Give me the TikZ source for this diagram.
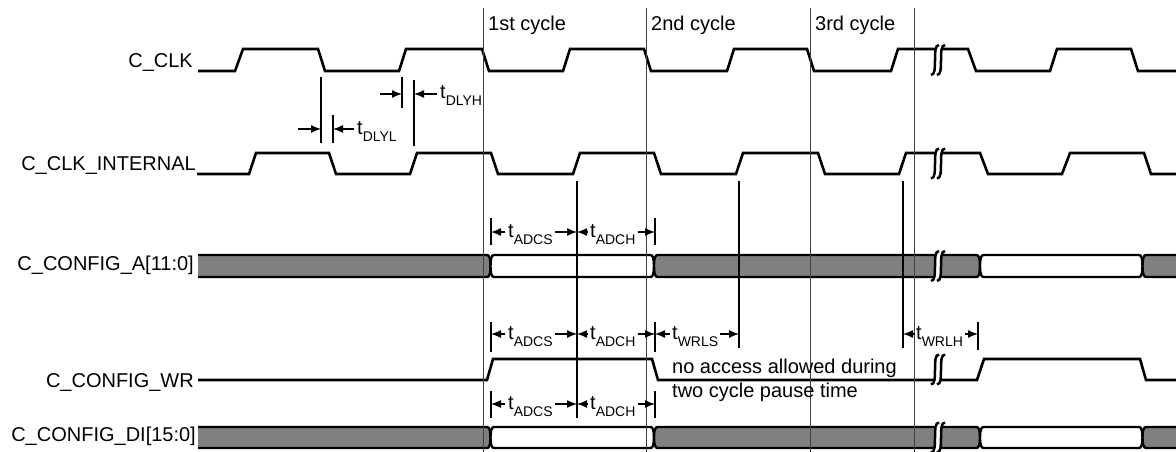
\documentclass[tikz,border=0pt]{standalone}
\usepackage{fontspec}
\setmainfont{Liberation Sans}
\usetikzlibrary{arrows.meta}
\definecolor{busgray}{RGB}{128,128,128}
\newcommand\tsb[1]{t\raisebox{-7pt}{\fontsize{14}{14}\selectfont #1}}
\newcommand\bseg[5]{%
  \filldraw[bus, fill=#3] ({#1+3.5},#4) -- ({#2-3.5},#4) .. controls ({#2-1},#4) and (#2,{#4+4}) .. (#2,{(#4+#5)/2}) .. controls (#2,{#5-4}) and ({#2-1},#5) .. ({#2-3.5},#5) -- ({#1+3.5},#5) .. controls ({#1+1},#5) and (#1,{#5-4}) .. (#1,{(#4+#5)/2}) .. controls (#1,{#4+4}) and ({#1+1},#4) .. cycle;}
\newcommand\bsegL[4]{%
  \fill[#2] (198,#3) -- ({#1-3.5},#3) .. controls ({#1-1},#3) and (#1,{#3+4}) .. (#1,{(#3+#4)/2}) .. controls (#1,{#4-4}) and ({#1-1},#4) .. ({#1-3.5},#4) -- (198,#4) -- cycle;
  \draw[bus] (198,#3) -- ({#1-3.5},#3) .. controls ({#1-1},#3) and (#1,{#3+4}) .. (#1,{(#3+#4)/2}) .. controls (#1,{#4-4}) and ({#1-1},#4) .. ({#1-3.5},#4) -- (198,#4);}
\newcommand\bsegR[4]{%
  \fill[#2] (1178,#3) -- ({#1+3.5},#3) .. controls ({#1+1},#3) and (#1,{#3+4}) .. (#1,{(#3+#4)/2}) .. controls (#1,{#4-4}) and ({#1+1},#4) .. ({#1+3.5},#4) -- (1178,#4) -- cycle;
  \draw[bus] (1178,#3) -- ({#1+3.5},#3) .. controls ({#1+1},#3) and (#1,{#3+4}) .. (#1,{(#3+#4)/2}) .. controls (#1,{#4-4}) and ({#1+1},#4) .. ({#1+3.5},#4) -- (1178,#4);}
\newcommand\brk[2]{%
  \fill[white] ({#1+1},{#2-15}) .. controls ({#1-7},{#2-15}) and ({#1+1},{#2+15}) .. ({#1-7},{#2+15}) -- ({#1-1},{#2+15}) .. controls ({#1+7},{#2+15}) and ({#1-1},{#2-15}) .. ({#1+7},{#2-15}) -- cycle;
  \draw[brkline] ({#1+1},{#2-15}) .. controls ({#1-7},{#2-15}) and ({#1+1},{#2+15}) .. ({#1-7},{#2+15});
  \draw[brkline] ({#1+7},{#2-15}) .. controls ({#1-1},{#2-15}) and ({#1+7},{#2+15}) .. ({#1-1},{#2+15});}
\begin{document}
\begin{tikzpicture}[x=1pt,y=-1pt,
  every node/.style={font=\fontsize{20}{24}\selectfont, inner sep=0pt},
  sig/.style={line width=2.6pt},
  bus/.style={line width=2.4pt},
  brkline/.style={line width=2.5pt},
  cyc/.style={line width=0.9pt, black!75},
  tick/.style={line width=1.3pt},
  arr/.style={-{Latex[length=10pt,width=8pt]}, line width=1.3pt}]
\useasboundingbox (0,0) rectangle (1176,452);
% signal labels
\node[anchor=base east] (lclk) at (193,68) {C\_CLK};
\node[anchor=base east] (lint) at (196,170) {C\_CLK\_INTERNAL};
\node[anchor=base east] (la) at (194,270) {C\_CONFIG\_A[11:0]};
\node[anchor=base east] (lwr) at (194,387) {C\_CONFIG\_WR};
\node[anchor=base east] (ldi) at (196,441) {C\_CONFIG\_DI[15:0]};
% cycle labels
\node[anchor=base west] (c1) at (488,31) {1st cycle};
\node[anchor=base west] (c2) at (651,31) {2nd cycle};
\node[anchor=base west] (c3) at (815,31) {3rd cycle};
% C_CLK
\draw[sig] (198,71) -- (235,71) -- (243,49) -- (318,49) -- (325,71) -- (399,71) -- (406,49) -- (482,49) -- (489,71) -- (563,71) -- (570,49) -- (644,49) -- (651,71) -- (727,71) -- (734,49) -- (807,49) -- (814,71) -- (891,71) -- (898,49) -- (968,49) -- (976,71) -- (1050,71) -- (1057,49) -- (1131,49) -- (1138,71) -- (1178,71);
% C_CLK_INTERNAL
\draw[sig] (197,174) -- (249,174) -- (256,153) -- (329,153) -- (336,174) -- (410,174) -- (417,153) -- (491,153) -- (498,174) -- (573,174) -- (580,153) -- (654,153) -- (661,174) -- (736,174) -- (743,153) -- (818,153) -- (825,174) -- (899,174) -- (906,153) -- (980,153) -- (988,174) -- (1062,174) -- (1070,153) -- (1144,153) -- (1151,174) -- (1178,174);
% C_CONFIG_WR
\draw[sig] (198,380) -- (487,380) -- (493,359) -- (652,359) -- (658,380) -- (977,380) -- (984,359) -- (1140,359) -- (1146,380) -- (1178,380);
% buses
\bsegL{490.5}{busgray}{255}{277}
\bseg{490.5}{654}{white}{255}{277}
\bseg{654}{980}{busgray}{255}{277}
\bseg{980}{1142.5}{white}{255}{277}
\bsegR{1142.5}{busgray}{255}{277}
\bsegL{490.5}{busgray}{427}{448}
\bseg{490.5}{654}{white}{427}{448}
\bseg{654}{980}{busgray}{427}{448}
\bseg{980}{1142.5}{white}{427}{448}
\bsegR{1142.5}{busgray}{427}{448}
% breaks
\brk{938}{60}
\brk{938}{163.5}
\brk{938}{266}
\brk{938}{369.5}
\brk{938}{437.5}
% cycle lines
\coordinate (k1t) at (483,8); \coordinate (k1b) at (483,452);
\coordinate (k2t) at (646,8); \coordinate (k2b) at (646,452);
\coordinate (k3t) at (810,8); \coordinate (k3b) at (810,452);
\coordinate (k4t) at (914,8); \coordinate (k4b) at (914,452);
\draw[cyc] (k1t) -- (k1b);
\draw[cyc] (k2t) -- (k2b);
\draw[cyc] (k3t) -- (k3b);
\draw[cyc] (k4t) -- (k4b);
% delay ticks
\draw[tick] (321,77) -- (321,143);
\draw[tick] (333,115) -- (333,143);
\draw[tick] (402,77) -- (402,108);
\draw[tick] (414,80) -- (414,146);
% long timing lines
\draw[line width=1.8pt] (577,181) -- (577,418);
\draw[tick] (739,181) -- (739,348);
\draw[tick] (903,181) -- (903,348);
% row ticks
\draw[tick] (491,218) -- (491,245);
\draw[tick] (655,218) -- (655,245);
\draw[tick] (491,322) -- (491,352);
\draw[tick] (655,322) -- (655,352);
\draw[tick] (978,322) -- (978,350);
\draw[tick] (491,391) -- (491,418);
\draw[tick] (655,391) -- (655,418);
% DLY annotations
\node[anchor=base west] (dlyl) at (357,134) {\tsb{DLYL}};
\node[anchor=base west] (dlyh) at (440,99) {\tsb{DLYH}};
\coordinate (D0) at (298,129); \coordinate (D1) at (321,129); \coordinate (D2) at (333,129);
\coordinate (H0) at (380,94); \coordinate (H1) at (402,94); \coordinate (H2) at (414,94);
\draw[arr] (D0) -- (D1);
\draw[arr] ([xshift=-3pt]dlyl.west |- D2) -- (D2);
\draw[arr] (H0) -- (H1);
\draw[arr] ([xshift=-3pt]dlyh.west |- H2) -- (H2);
% row A annotations
\node[anchor=base west] (adcs1) at (508,237) {\tsb{ADCS}};
\node[anchor=base west] (adch1) at (590,237) {\tsb{ADCH}};
\coordinate (A1) at (491,232); \coordinate (A2) at (577,232); \coordinate (A3) at (655,232);
\draw[arr] ([xshift=-3pt]adcs1.west |- A1) -- (A1);
\draw[arr] ([xshift=2pt]adcs1.east |- A2) -- (A2);
\draw[arr] ([xshift=-2pt]adch1.west |- A2) -- (A2);
\draw[arr] ([xshift=2pt]adch1.east |- A3) -- (A3);
% row WR annotations
\node[anchor=base west] (adcs2) at (508,339) {\tsb{ADCS}};
\node[anchor=base west] (adch2) at (590,339) {\tsb{ADCH}};
\node[anchor=base west] (wrls) at (672,339) {\tsb{WRLS}};
\node[anchor=base west] (wrlh) at (916,339) {\tsb{WRLH}};
\coordinate (W1) at (491,334); \coordinate (W2) at (577,334); \coordinate (W3) at (655,334);
\coordinate (W4) at (739,334); \coordinate (W5) at (903,334); \coordinate (W6) at (978,334);
\draw[arr] ([xshift=-3pt]adcs2.west |- W1) -- (W1);
\draw[arr] ([xshift=2pt]adcs2.east |- W2) -- (W2);
\draw[arr] ([xshift=-2pt]adch2.west |- W2) -- (W2);
\draw[arr] ([xshift=2pt]adch2.east |- W3) -- (W3);
\draw[arr] ([xshift=-2pt]wrls.west |- W3) -- (W3);
\draw[arr] ([xshift=2pt]wrls.east |- W4) -- (W4);
\draw[arr] ([xshift=-1pt]wrlh.west |- W5) -- (W5);
\draw[arr] ([xshift=2pt]wrlh.east |- W6) -- (W6);
% row DI annotations
\node[anchor=base west] (adcs3) at (508,409) {\tsb{ADCS}};
\node[anchor=base west] (adch3) at (590,409) {\tsb{ADCH}};
\coordinate (E1) at (491,404); \coordinate (E2) at (577,404); \coordinate (E3) at (655,404);
\draw[arr] ([xshift=-3pt]adcs3.west |- E1) -- (E1);
\draw[arr] ([xshift=2pt]adcs3.east |- E2) -- (E2);
\draw[arr] ([xshift=-2pt]adch3.west |- E2) -- (E2);
\draw[arr] ([xshift=2pt]adch3.east |- E3) -- (E3);
% note
\node[anchor=base west] (note1) at (672,373) {no access allowed during};
\node[anchor=base west] (note2) at (672,397) {two cycle pause time};
\end{tikzpicture}
\end{document}
